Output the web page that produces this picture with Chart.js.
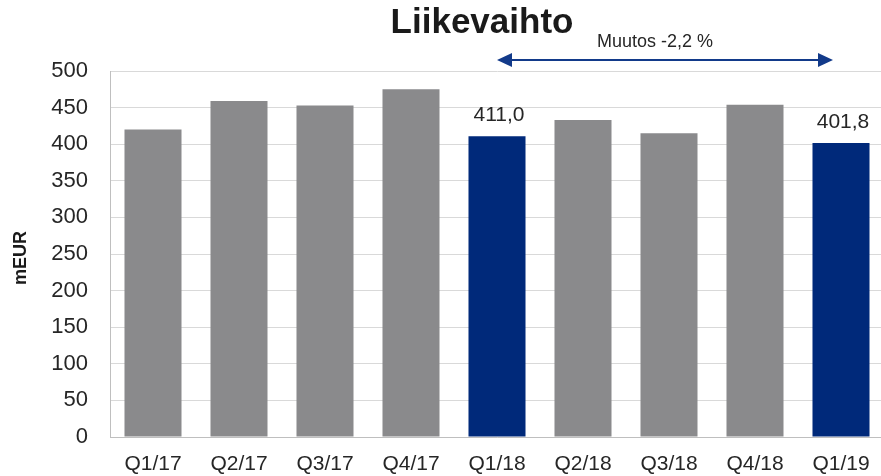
<!DOCTYPE html>
<html>
<head>
<meta charset="utf-8">
<script src="https://cdn.jsdelivr.net/npm/chart.js@4.4.1/dist/chart.umd.min.js"></script>
<style>
  html, body { margin: 0; padding: 0; background: #fff; overflow: hidden; }
  #wrap { position: absolute; left: 0; top: 0; width: 890px; height: 476px; }
</style>
</head>
<body>
<div id="wrap"><canvas id="myChart"></canvas></div>
<script>
// --- Daten ---
const quarters = ['Q1/17', 'Q2/17', 'Q3/17', 'Q4/17', 'Q1/18', 'Q2/18', 'Q3/18', 'Q4/18', 'Q1/19'];
const revenue = [420, 459, 453, 475, 411.0, 433, 415, 454, 401.8];
const highlighted = [4, 8];           // blaue Säulen
const valueLabels = ['', '', '', '', '411,0', '', '', '', '401,8'];
const yTicks = [0, 50, 100, 150, 200, 250, 300, 350, 400, 450, 500];
const titleText = 'Liikevaihto';
const yTitle = 'mEUR';
const changeText = 'Muutos -2,2 %';

const FONT = '"Liberation Sans", Arial, sans-serif';
const GREY = '#8a8a8c';
const BLUE = '#00297a';

const barColors = quarters.map((q, i) => highlighted.includes(i) ? BLUE : GREY);

// Titel, Achsentitel, Werte und Pfeil zeichnen
const overlay = {
  id: 'overlay',
  afterDatasetsDraw(chart) {
    const ctx = chart.ctx;
    const meta = chart.getDatasetMeta(0);
    ctx.save();

    // Titel
    ctx.font = 'bold 35px ' + FONT;
    ctx.fillStyle = '#1a1a1a';
    ctx.textAlign = 'center';
    ctx.textBaseline = 'alphabetic';
    ctx.fillText(titleText, 482, 33);

    // y-Achsentitel
    ctx.save();
    ctx.translate(21, 258);
    ctx.rotate(-Math.PI / 2);
    ctx.font = 'bold 18px ' + FONT;
    ctx.fillStyle = '#1a1a1a';
    ctx.textBaseline = 'middle';
    ctx.fillText(yTitle, 0, 0);
    ctx.restore();

    // Werte über den blauen Säulen
    ctx.font = '21px ' + FONT;
    ctx.fillStyle = '#262626';
    valueLabels.forEach((txt, i) => {
      if (!txt) return;
      const bar = meta.data[i];
      ctx.fillText(txt, bar.x + 2, bar.y - 15);
    });

    // Pfeil Q1/18 -> Q1/19
    const x1 = meta.data[highlighted[0]].x;
    const x2 = meta.data[highlighted[1]].x - 8;
    const y = 60;
    ctx.strokeStyle = '#123a8a';
    ctx.fillStyle = '#123a8a';
    ctx.lineWidth = 2;
    ctx.beginPath();
    ctx.moveTo(x1 + 10, y);
    ctx.lineTo(x2 - 10, y);
    ctx.stroke();
    ctx.beginPath();
    ctx.moveTo(x1, y);
    ctx.lineTo(x1 + 15, y - 7);
    ctx.lineTo(x1 + 15, y + 7);
    ctx.closePath();
    ctx.fill();
    ctx.beginPath();
    ctx.moveTo(x2, y);
    ctx.lineTo(x2 - 15, y - 7);
    ctx.lineTo(x2 - 15, y + 7);
    ctx.closePath();
    ctx.fill();

    ctx.font = '18px ' + FONT;
    ctx.fillStyle = '#262626';
    ctx.fillText(changeText, 655, 47);

    ctx.restore();
  }
};

const ctx = document.getElementById('myChart').getContext('2d');
new Chart(ctx, {
  type: 'bar',
  data: {
    labels: quarters,
    datasets: [{
      data: revenue,
      backgroundColor: barColors,
      borderWidth: 0,
      barPercentage: 0.663,
      categoryPercentage: 1.0
    }]
  },
  options: {
    responsive: true,
    maintainAspectRatio: false,
    animation: false,
    layout: { padding: { top: 71, left: 0, right: 6, bottom: 0 } },
    plugins: {
      legend: { display: false },
      tooltip: { enabled: false }
    },
    scales: {
      x: {
        grid: { display: false },
        border: { display: true, color: '#bfbfbf', width: 1 },
        ticks: { color: '#262626', font: { family: FONT, size: 21 }, padding: 7, maxRotation: 0 },
        afterFit(scale) { scale.height = 39; }
      },
      y: {
        min: 0,
        max: 500,
        afterBuildTicks(scale) { scale.ticks = yTicks.map(v => ({ value: v })); },
        grid: { color: '#d9d9d9', drawTicks: false },
        border: { display: true, color: '#bfbfbf', width: 1 },
        ticks: { color: '#262626', font: { family: FONT, size: 22 }, padding: 22 },
        afterFit(scale) { scale.width = 110; }
      }
    }
  },
  plugins: [overlay]
});
</script>
</body>
</html>
